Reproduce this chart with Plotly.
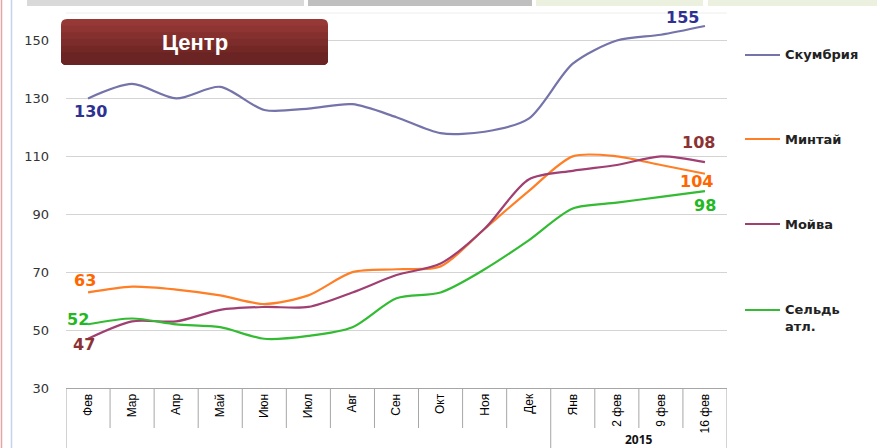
import plotly.graph_objects as go

categories = ["Фев", "Мар", "Апр", "Май", "Июн", "Июл", "Авг", "Сен", "Окт", "Ноя", "Дек",
              "Янв", "2 фев", "9 фев", "16 фев"]
year_label = "2015"
skumbria = [130, 135, 130, 134, 126, 126.5, 128, 123.5, 118, 118.5, 123, 142, 150, 152, 155]
mintai = [63, 65, 64, 62, 59, 62, 70, 71, 72, 85, 98, 110, 110, 107, 104]
moiva = [47, 53, 53, 57, 58, 58, 63, 69, 73, 85, 102, 105, 107, 110, 108]
seld = [52, 54, 52, 51, 47, 48, 51, 61, 63, 71, 81, 92, 94, 96, 98]
series_names = ["Скумбрия", "Минтай", "Мойва", "Сельдь<br>атл."]
series_values = [skumbria, mintai, moiva, seld]
series_colors = ["#7473AA", "#FF7F27", "#A03F72", "#33BB33"]
label_colors = ["#2E3192", "#FF6600", "#8B3333", "#22B822"]
yticks = [30, 50, 70, 90, 110, 130, 150]

W, H = 877, 448
ML, MR, MT, MB = 66, 150, 13, 60
PW, PH = W - ML - MR, H - MT - MB


def px(xp):
    return (xp - ML) / PW


def py(yp):
    return (H - MB - yp) / PH


fig = go.Figure()
for name, vals, col in zip(series_names, series_values, series_colors):
    fig.add_trace(go.Scatter(x=categories, y=vals, mode="lines", name=name,
                             line=dict(color=col, width=2.2, shape="spline", smoothing=0.8),
                             showlegend=False, hoverinfo="skip"))

shapes = []
annotations = []

# data labels (first and last points)
lab_font = dict(family="DejaVu Sans", size=16)
label_specs = [
    (0, 0, 2, -13), (0, 14, -22, 9),
    (1, 0, -3, 12), (1, 14, -8, -8),
    (2, 0, -4, -6), (2, 14, -6, 20),
    (3, 0, -10, 5), (3, 14, 0, -14),
]
for si, idx, xs, ys in label_specs:
    annotations.append(dict(x=categories[idx], y=series_values[si][idx], xref="x", yref="y",
                            text="<b>%g</b>" % series_values[si][idx], showarrow=False,
                            xanchor="center", yanchor="middle",
                            xshift=xs, yshift=ys,
                            font=dict(lab_font, color=label_colors[si])))

# category table lines under the axis
for i in range(len(categories) + 1):
    xpos = i - 0.5
    full = i in (0, 11, len(categories))
    shapes.append(dict(type="line", xref="x", yref="paper", x0=xpos, x1=xpos,
                       y0=0, y1=py(448) if full else py(428),
                       line=dict(color="#A6A6A6", width=1)))
annotations.append(dict(x=12.5, y=py(439.5), xref="x", yref="paper", text="<b>" + year_label + "</b>",
                        showarrow=False, xanchor="center", yanchor="middle",
                        font=dict(family="Open Sans", size=12, color="#111")))

# faint top border
shapes.append(dict(type="line", xref="paper", yref="paper", x0=0, x1=1, y0=1, y1=1,
                   line=dict(color="#EEEEEE", width=1)))

# legend (manual)
leg_y = [55, 139, 224, 310]
for name, col, ly in zip(series_names, series_colors, leg_y):
    shapes.append(dict(type="line", xref="paper", yref="paper", x0=px(745), x1=px(780),
                       y0=py(ly), y1=py(ly), line=dict(color=col, width=2.2)))
    ty = ly if "<br>" not in name else ly + 8
    annotations.append(dict(x=px(783), y=py(ty), xref="paper", yref="paper", xanchor="left",
                            yanchor="middle", align="left", text="<b>" + name + "</b>",
                            showarrow=False,
                            font=dict(family="DejaVu Sans", size=13, color="#222")))

# top bars
for x0, x1, col in [(27, 304, "#D9D9D9"), (308, 532, "#BFBFBF"), (536, 703, "#EBF1DE"), (708, 877, "#EBF1DE")]:
    shapes.append(dict(type="rect", xref="paper", yref="paper", x0=px(x0), x1=px(x1),
                       y0=py(6), y1=py(0), line=dict(width=0), fillcolor=col))

# left border lines
shapes.append(dict(type="line", xref="paper", yref="paper", x0=px(1.5), x1=px(1.5), y0=py(448), y1=py(0),
                   line=dict(color="#E8A3A3", width=1.5)))
shapes.append(dict(type="line", xref="paper", yref="paper", x0=px(11.5), x1=px(11.5), y0=py(448), y1=py(0),
                   line=dict(color="#C3D4EB", width=1.5)))

# title box with rounded corners and a vertical gradient (stacked bands)
bx0, bx1, by0, by1, r = 61, 328, 19, 65, 6


def P(x, y):
    return "%.5f,%.5f" % (px(x), py(y))


def box_path(top, rounded_top):
    s = ""
    if rounded_top:
        s += "M " + P(bx0 + r, top) + " L " + P(bx1 - r, top) + " Q " + P(bx1, top) + " " + P(bx1, top + r)
    else:
        s += "M " + P(bx0, top) + " L " + P(bx1, top)
    s += (" L " + P(bx1, by1 - r) + " Q " + P(bx1, by1) + " " + P(bx1 - r, by1) +
          " L " + P(bx0 + r, by1) + " Q " + P(bx0, by1) + " " + P(bx0, by1 - r))
    if rounded_top:
        s += " L " + P(bx0, top + r) + " Q " + P(bx0, top) + " " + P(bx0 + r, top) + " Z"
    else:
        s += " Z"
    return s


band_cols = ["#963835", "#8E3432", "#85302E", "#7C2C2A", "#732826", "#6B2424"]
nb = len(band_cols)
for k, c in enumerate(band_cols):
    top = by0 + (by1 - by0 - r) * k / nb
    shapes.append(dict(type="path", xref="paper", yref="paper", path=box_path(top, k == 0),
                       fillcolor=c, line=dict(width=0), layer="above"))
annotations.append(dict(x=px(195), y=py(42), xref="paper", yref="paper", text="<b>Центр</b>",
                        showarrow=False, xanchor="center", yanchor="middle",
                        font=dict(family="Liberation Sans", size=22, color="white")))

fig.update_layout(
    width=W, height=H,
    margin=dict(l=ML, r=MR, t=MT, b=MB),
    paper_bgcolor="white", plot_bgcolor="white",
    shapes=shapes, annotations=annotations,
    showlegend=False,
    xaxis=dict(type="category", range=[-0.5, len(categories) - 0.5], showgrid=False,
               showline=True, linecolor="#A6A6A6", linewidth=1, ticks="", tickangle=-90,
               tickfont=dict(family="Liberation Sans", size=12, color="#000"),
               zeroline=False, fixedrange=True),
    yaxis=dict(range=[30, 159.5], tickvals=yticks, showgrid=True, gridcolor="#D4D4D4",
               gridwidth=1, zeroline=False, showline=False, ticks="", ticklabelstandoff=16,
               tickfont=dict(family="DejaVu Sans", size=13, color="#333"), fixedrange=True),
)

fig.write_html("out.html", config={"displayModeBar": False},
               post_script="document.body.style.margin='0';document.body.style.overflow='hidden';")
